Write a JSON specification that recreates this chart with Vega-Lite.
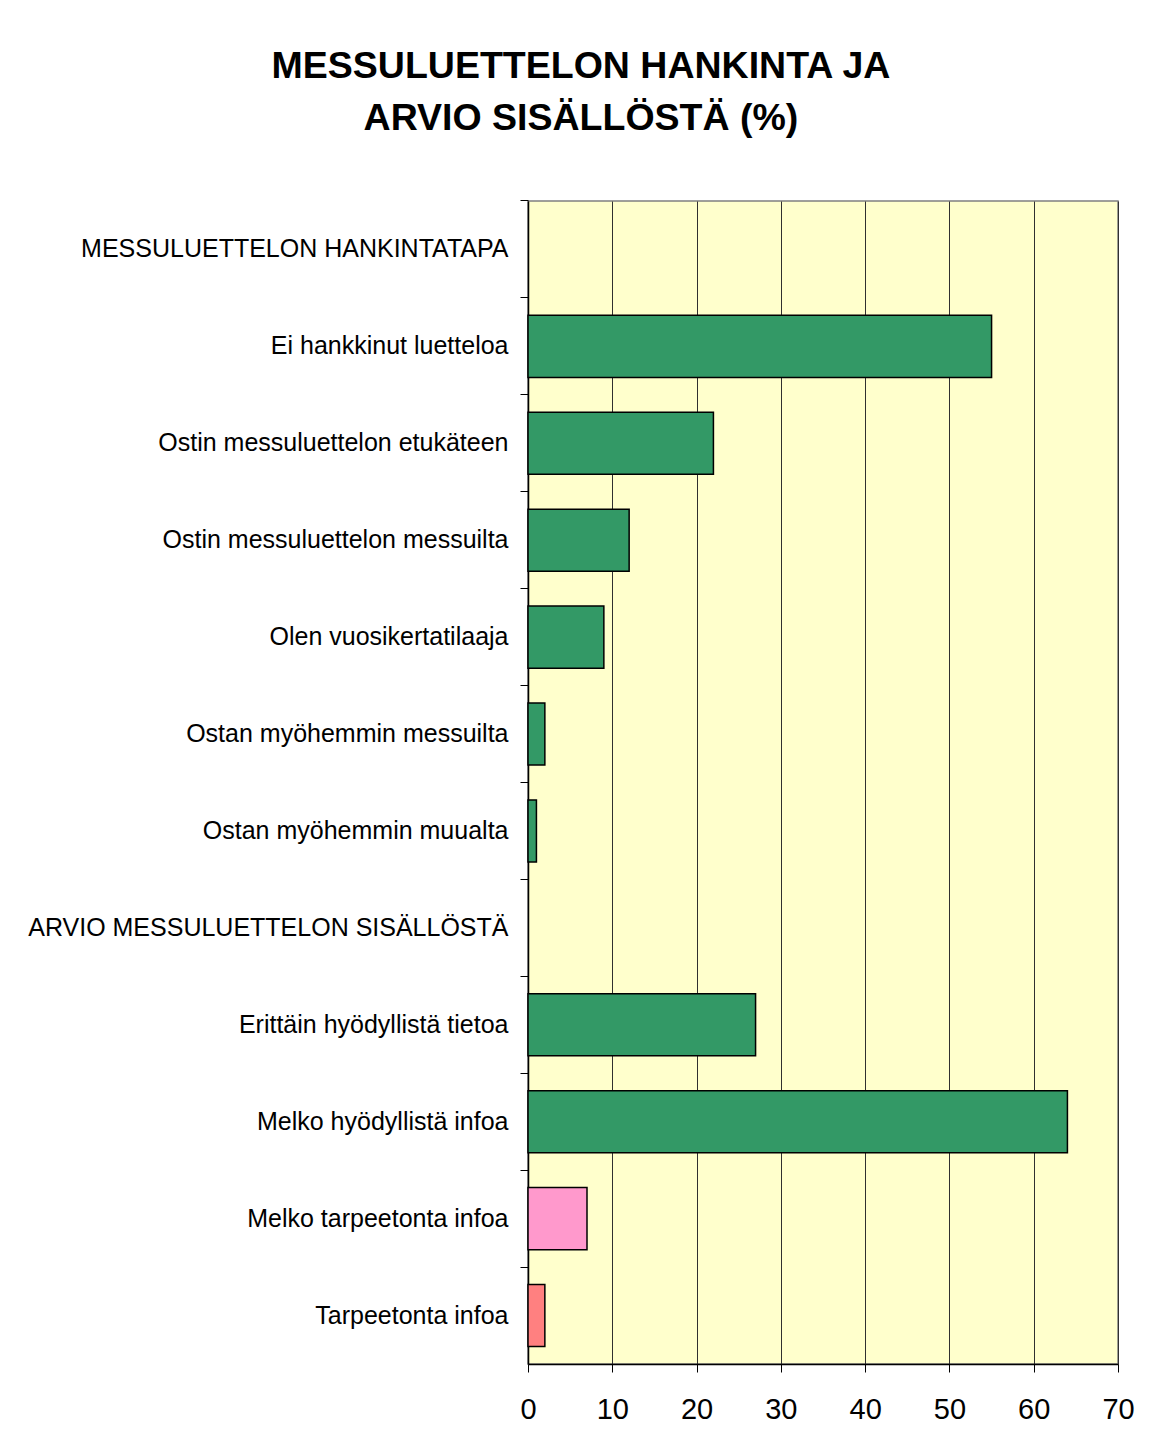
{
  "$schema": "https://vega.github.io/schema/vega-lite/v6.json",
  "width": 590,
  "height": 1163,
  "padding": {"left": 27, "top": 48, "right": 25, "bottom": 10},
  "background": "white",
  "title": {
    "text": ["MESSULUETTELON HANKINTA JA", "ARVIO SISÄLLÖSTÄ (%)"],
    "font": "Liberation Sans",
    "fontSize": 37.5,
    "fontWeight": "bold",
    "lineHeight": 52,
    "color": "black",
    "anchor": "middle",
    "frame": "bounds",
    "dx": 0,
    "offset": 62
  },
  "data": {
    "values": [
      {"label": "MESSULUETTELON HANKINTATAPA", "value": null, "group": "otsikko"},
      {"label": "Ei hankkinut luetteloa", "value": 55, "group": "hyödyllinen"},
      {"label": "Ostin messuluettelon etukäteen", "value": 22, "group": "hyödyllinen"},
      {"label": "Ostin messuluettelon messuilta", "value": 12, "group": "hyödyllinen"},
      {"label": "Olen vuosikertatilaaja", "value": 9, "group": "hyödyllinen"},
      {"label": "Ostan myöhemmin messuilta", "value": 2, "group": "hyödyllinen"},
      {"label": "Ostan myöhemmin muualta", "value": 1, "group": "hyödyllinen"},
      {"label": "ARVIO MESSULUETTELON SISÄLLÖSTÄ", "value": null, "group": "otsikko"},
      {"label": "Erittäin hyödyllistä tietoa", "value": 27, "group": "hyödyllinen"},
      {"label": "Melko hyödyllistä infoa", "value": 64, "group": "hyödyllinen"},
      {"label": "Melko tarpeetonta infoa", "value": 7, "group": "melko tarpeeton"},
      {"label": "Tarpeetonta infoa", "value": 2, "group": "tarpeeton"}
    ]
  },
  "mark": {"type": "bar", "stroke": "black", "strokeWidth": 1.5},
  "encoding": {
    "y": {
      "field": "label",
      "type": "nominal",
      "title": null,
      "scale": {
        "domain": [
          "MESSULUETTELON HANKINTATAPA",
          "Ei hankkinut luetteloa",
          "Ostin messuluettelon etukäteen",
          "Ostin messuluettelon messuilta",
          "Olen vuosikertatilaaja",
          "Ostan myöhemmin messuilta",
          "Ostan myöhemmin muualta",
          "ARVIO MESSULUETTELON SISÄLLÖSTÄ",
          "Erittäin hyödyllistä tietoa",
          "Melko hyödyllistä infoa",
          "Melko tarpeetonta infoa",
          "Tarpeetonta infoa"
        ],
        "paddingInner": 0.36,
        "paddingOuter": 0.18
      },
      "axis": {
        "bandPosition": -0.28125,
        "labelFont": "Liberation Sans",
        "labelFontSize": 25,
        "labelColor": "black",
        "labelPadding": 12,
        "labelLimit": 700,
        "tickSize": 8,
        "tickColor": "black",
        "domainColor": "black",
        "domainWidth": 1.5,
        "grid": false
      }
    },
    "x": {
      "field": "value",
      "type": "quantitative",
      "title": null,
      "scale": {"domain": [0, 70], "nice": false},
      "axis": {
        "values": [0, 10, 20, 30, 40, 50, 60, 70],
        "labelFont": "Liberation Sans",
        "labelFontSize": 29,
        "labelColor": "black",
        "labelPadding": 23,
        "labelFlush": false,
        "tickSize": 8,
        "tickColor": "black",
        "domainColor": "black",
        "domainWidth": 1.5,
        "grid": true,
        "gridColor": "#303030",
        "gridWidth": 1,
        "gridOpacity": 1
      }
    },
    "color": {
      "field": "group",
      "type": "nominal",
      "legend": null,
      "scale": {
        "domain": ["hyödyllinen", "melko tarpeeton", "tarpeeton", "otsikko"],
        "range": ["#339966", "#FF99CC", "#FF8080", "#339966"]
      }
    }
  },
  "config": {
    "view": {"fill": "#FFFFCC", "stroke": "#808080", "strokeWidth": 1.5}
  }
}
